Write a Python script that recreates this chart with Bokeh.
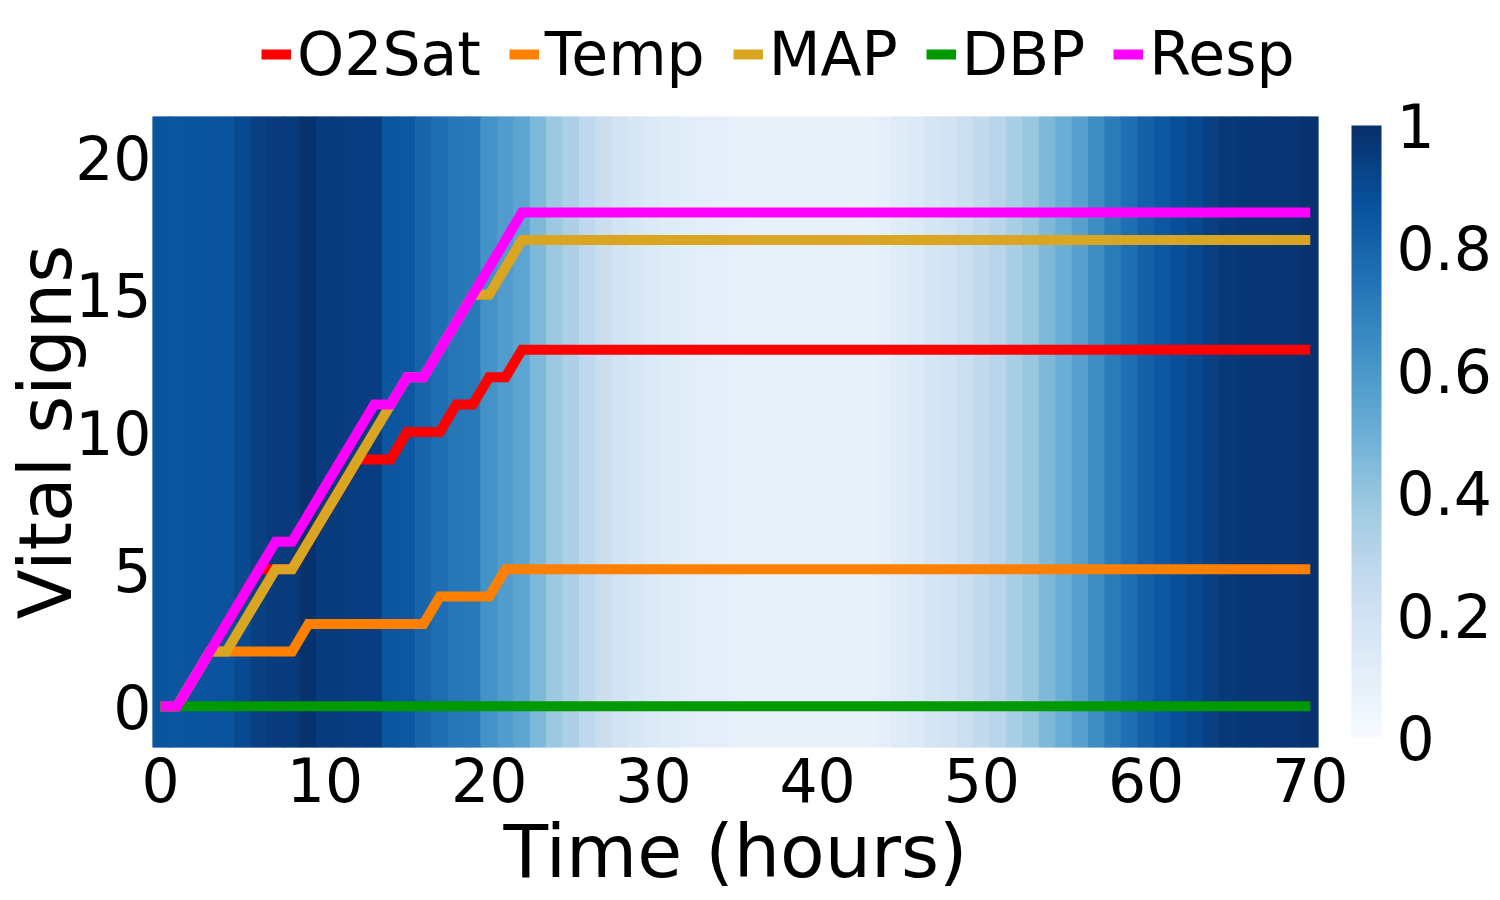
from bokeh.plotting import figure
from bokeh.layouts import column
from bokeh.models import (ColumnDataSource, LinearColorMapper, ColorBar, FixedTicker,
                          Legend, LegendItem, Range1d, CustomJSTickFormatter)
from bokeh.transform import transform
from bokeh.palettes import Blues256
from bokeh.embed import file_html
from bokeh.resources import INLINE

# ---------------- data ----------------
hours = list(range(71))

attention = [0.865, 0.855, 0.865, 0.865, 0.87, 0.90, 0.94, 0.95, 0.955, 0.99,
             0.955, 0.95, 0.945, 0.945, 0.855, 0.85, 0.80, 0.76, 0.73, 0.72,
             0.62, 0.58, 0.54, 0.45, 0.38, 0.33, 0.27, 0.23, 0.19, 0.16,
             0.14, 0.12, 0.11, 0.10, 0.09, 0.085, 0.08, 0.08, 0.08, 0.08,
             0.075, 0.075, 0.075, 0.08, 0.09, 0.12, 0.14, 0.17, 0.19, 0.22,
             0.26, 0.30, 0.34, 0.39, 0.45, 0.50, 0.56, 0.64, 0.71, 0.76,
             0.81, 0.85, 0.88, 0.91, 0.94, 0.96, 0.97, 0.97, 0.98, 0.98,
             0.99]

o2sat = [0, 0, 1, 2, 3, 4, 5, 5, 5, 6, 7, 8, 9, 9, 9, 10, 10, 10, 11, 11,
         12, 12, 13, 13, 13, 13, 13, 13, 13, 13, 13, 13, 13, 13, 13, 13, 13, 13, 13, 13,
         13, 13, 13, 13, 13, 13, 13, 13, 13, 13, 13, 13, 13, 13, 13, 13, 13, 13, 13, 13,
         13, 13, 13, 13, 13, 13, 13, 13, 13, 13, 13]
temp = [0, 0, 1, 2, 2, 2, 2, 2, 2, 3, 3, 3, 3, 3, 3, 3, 3, 4, 4, 4,
        4, 5, 5, 5, 5, 5, 5, 5, 5, 5, 5, 5, 5, 5, 5, 5, 5, 5, 5, 5,
        5, 5, 5, 5, 5, 5, 5, 5, 5, 5, 5, 5, 5, 5, 5, 5, 5, 5, 5, 5,
        5, 5, 5, 5, 5, 5, 5, 5, 5, 5, 5]
map_ = [0, 0, 1, 2, 2, 3, 4, 5, 5, 6, 7, 8, 9, 10, 11, 12, 12, 13, 14, 15,
        15, 16, 17, 17, 17, 17, 17, 17, 17, 17, 17, 17, 17, 17, 17, 17, 17, 17, 17, 17,
        17, 17, 17, 17, 17, 17, 17, 17, 17, 17, 17, 17, 17, 17, 17, 17, 17, 17, 17, 17,
        17, 17, 17, 17, 17, 17, 17, 17, 17, 17, 17]
dbp = [0, 0, 0, 0, 0, 0, 0, 0, 0, 0, 0, 0, 0, 0, 0, 0, 0, 0, 0, 0,
       0, 0, 0, 0, 0, 0, 0, 0, 0, 0, 0, 0, 0, 0, 0, 0, 0, 0, 0, 0,
       0, 0, 0, 0, 0, 0, 0, 0, 0, 0, 0, 0, 0, 0, 0, 0, 0, 0, 0, 0,
       0, 0, 0, 0, 0, 0, 0, 0, 0, 0, 0]
resp = [0, 0, 1, 2, 3, 4, 5, 6, 6, 7, 8, 9, 10, 11, 11, 12, 12, 13, 14, 15,
        16, 17, 18, 18, 18, 18, 18, 18, 18, 18, 18, 18, 18, 18, 18, 18, 18, 18, 18, 18,
        18, 18, 18, 18, 18, 18, 18, 18, 18, 18, 18, 18, 18, 18, 18, 18, 18, 18, 18, 18,
        18, 18, 18, 18, 18, 18, 18, 18, 18, 18, 18]

series_names = ["O2Sat", "Temp", "MAP", "DBP", "Resp"]
series_values = [o2sat, temp, map_, dbp, resp]
series_colors = ["#ff0000", "#ff8000", "#daa520", "#009900", "#ff00ff"]

x_ticks = [0, 10, 20, 30, 40, 50, 60, 70]
y_ticks = [0, 5, 10, 15, 20]
cb_ticks = [0, 0.2, 0.4, 0.6, 0.8, 1]

x_start, x_end = -0.5, 70.5
y_start, y_end = -1.5, 21.5

FONT = "DejaVu Sans"
FW, FH = 1166, 631
TOTAL_W = 146 + FW + 180
LEG_H = 90

# ---------------- legend strip (same line styles, shown above the plot) ----------------
lg = figure(width=TOTAL_W, height=LEG_H, output_backend="svg", toolbar_location=None,
            x_axis_type=None, y_axis_type=None, min_border=0,
            x_range=Range1d(0, 1), y_range=Range1d(0, 1))
lg.outline_line_color = None
lg.xgrid.visible = False
lg.ygrid.visible = False

# ---------------- main figure ----------------
p = figure(frame_width=FW, frame_height=FH, output_backend="svg", toolbar_location=None,
           x_range=Range1d(x_start, x_end), y_range=Range1d(y_start, y_end),
           min_border_left=146, min_border_right=180, min_border_top=116 - LEG_H,
           min_border_bottom=150)
p.outline_line_color = None
p.xgrid.visible = False
p.ygrid.visible = False
p.background_fill_color = "white"

palette = list(reversed(Blues256))
mapper = LinearColorMapper(palette=palette, low=0, high=1)

src = ColumnDataSource(dict(hours=hours, val=attention))
p.vbar(x="hours", width=1, top=y_end, bottom=y_start, source=src,
       fill_color=transform("val", mapper), line_color=transform("val", mapper),
       line_width=1)

items = []
for name, vals, col in zip(series_names, series_values, series_colors):
    p.line(hours, vals, line_width=10, line_color=col, line_join="miter",
           line_cap="butt")
    # legend proxy in the strip: first reading of the series, lying outside the strip's range
    proxy = lg.line(x=hours[:1], y=[v + 5 for v in vals[:1]], line_width=10,
                    line_color=col)
    items.append(LegendItem(label=name, renderers=[proxy]))

legend = Legend(items=items, orientation="horizontal", location=(109, 1),
                label_text_font=FONT, label_text_font_size="60px",
                label_text_color="black",
                glyph_width=30, glyph_height=30, label_standoff=6, spacing=28,
                padding=0, margin=0, border_line_color=None,
                background_fill_alpha=0)
lg.add_layout(legend, "center")

for ax in (p.xaxis[0], p.yaxis[0]):
    ax.axis_line_color = None
    ax.major_tick_line_color = None
    ax.minor_tick_line_color = None
    ax.major_tick_out = 0
    ax.major_tick_in = 0
    ax.major_label_text_font = FONT
    ax.major_label_text_font_size = "60px"
    ax.axis_label_text_font = FONT
    ax.axis_label_text_font_size = "73px"
    ax.axis_label_text_font_style = "normal"
    ax.axis_label_text_color = "black"
    ax.major_label_text_color = "black"

p.xaxis[0].ticker = FixedTicker(ticks=x_ticks)
p.yaxis[0].ticker = FixedTicker(ticks=y_ticks)
p.xaxis[0].axis_label = "Time (hours)"
p.yaxis[0].axis_label = "Vital signs"
p.xaxis[0].major_label_standoff = 9
p.yaxis[0].major_label_standoff = 1
p.xaxis[0].axis_label_standoff = 4
p.yaxis[0].axis_label_standoff = -16

cb = ColorBar(color_mapper=mapper, ticker=FixedTicker(ticks=cb_ticks),
              formatter=CustomJSTickFormatter(code="return String(tick)"),
              width=30, height=612, padding=0, margin=0, location=(FW + 33, 10),
              major_label_text_font=FONT, major_label_text_font_size="60px",
              major_label_text_color="black",
              major_tick_line_color=None, minor_tick_line_color=None,
              bar_line_color=None, border_line_color=None,
              background_fill_alpha=0, label_standoff=15)
p.add_layout(cb, "center")

layout = column(lg, p, spacing=0)
open("out.html", "w").write(file_html(layout, INLINE))
